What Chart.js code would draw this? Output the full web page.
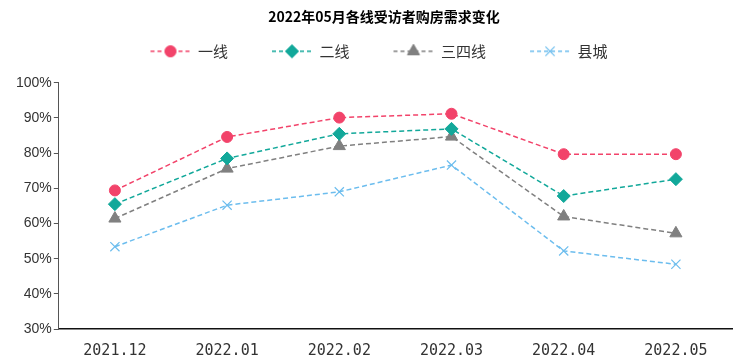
<!DOCTYPE html>
<html>
<head>
<meta charset="utf-8">
<script src="https://cdn.jsdelivr.net/npm/chart.js@4/dist/chart.umd.min.js"></script>
<style>
  html, body { margin: 0; padding: 0; background: #fff; }
  #wrap { width: 740px; height: 363px; }
</style>
</head>
<body>
<div id="wrap"><canvas id="demandChart"></canvas></div>
<script>
const months = ['2021.12', '2022.01', '2022.02', '2022.03', '2022.04', '2022.05'];
const tier1 = [69.4, 84.6, 90.1, 91.2, 79.7, 79.7];
const tier2 = [65.5, 78.5, 85.5, 86.9, 67.8, 72.6];
const tier34 = [61.4, 75.6, 82.0, 84.7, 62.0, 57.2];
const county = [53.4, 65.2, 69.0, 76.6, 52.2, 48.4];
const seriesNames = ['一线', '二线', '三四线', '县城'];

const colors = ['#f2436a', '#12a89a', '#808080', '#6cbdee'];
const markers = ['circle', 'rectRot', 'triangle', 'crossRot'];
const markerSize = [5.5, 6.5, 7, 6.5];

// legend icon: blank lead-in (item spacing), then dashed line with the marker in the middle
const ICON_LEAD = 34;
const makeLegendIcon = (i) => {
    const c = document.createElement('canvas');
    c.width = ICON_LEAD + 40;
    c.height = 16;
    const ctx = c.getContext('2d');
    ctx.strokeStyle = colors[i];
    ctx.lineWidth = 1.5;
    ctx.setLineDash([4, 3]);
    ctx.beginPath();
    ctx.moveTo(ICON_LEAD, 8);
    ctx.lineTo(ICON_LEAD + 40, 8);
    ctx.stroke();
    ctx.setLineDash([]);
    ctx.fillStyle = colors[i];
    ctx.strokeStyle = colors[i];
    ctx.lineWidth = markers[i] === 'crossRot' ? 1.2 : 1;
    Chart.helpers.drawPoint(ctx, {
        pointStyle: markers[i],
        radius: markerSize[i],
        borderWidth: ctx.lineWidth
    }, ICON_LEAD + 20, 8);
    if (markers[i] !== 'crossRot') ctx.fill();
    return c;
};

const makeDataset = (label, data, i) => ({
    label: label,
    data: data,
    borderColor: colors[i],
    backgroundColor: colors[i],
    borderWidth: 1.5,
    borderDash: [5, 3],
    pointStyle: markers[i],
    pointRadius: markerSize[i],
    pointHoverRadius: markerSize[i],
    pointBorderWidth: markers[i] === 'crossRot' ? 1.2 : 1,
    pointBackgroundColor: colors[i],
    pointBorderColor: colors[i],
    tension: 0
});

const icons = seriesNames.map((n, i) => makeLegendIcon(i));

// more room under the legend, and nudge title / legend sideways
const headerTweak = {
    id: 'headerTweak',
    beforeInit(chart) {
        const fit = chart.legend.fit;
        chart.legend.fit = function () {
            fit.bind(chart.legend)();
            this.height += 14;
        };
    },
    afterLayout(chart) {
        chart.legend.left -= 12;
        chart.legend.right -= 12;
        chart.titleBlock.left += 10;
        chart.titleBlock.right += 10;
    }
};

new Chart(document.getElementById('demandChart'), {
    type: 'line',
    data: {
        labels: months,
        datasets: [
            makeDataset(seriesNames[0], tier1, 0),
            makeDataset(seriesNames[1], tier2, 1),
            makeDataset(seriesNames[2], tier34, 2),
            makeDataset(seriesNames[3], county, 3)
        ]
    },
    plugins: [headerTweak],
    options: {
        responsive: true,
        maintainAspectRatio: false,
        animation: false,
        layout: {
            padding: { top: 0, left: 14, right: 6, bottom: -10 }
        },
        plugins: {
            title: {
                display: true,
                text: '2022年05月各线受访者购房需求变化',
                color: '#000',
                font: { family: '"Noto Sans CJK SC"', size: 14, weight: 'bold' },
                padding: { top: 8, bottom: 9 }
            },
            legend: {
                position: 'top',
                labels: {
                    usePointStyle: true,
                    pointStyleWidth: ICON_LEAD + 40,
                    padding: 10,
                    color: '#333',
                    font: { family: '"Noto Sans CJK SC"', size: 15 },
                    generateLabels: (chart) => chart.data.datasets.map((ds, i) => ({
                        text: ds.label,
                        pointStyle: icons[i],
                        fillStyle: colors[i],
                        strokeStyle: colors[i],
                        fontColor: '#333',
                        lineWidth: 0,
                        hidden: false,
                        datasetIndex: i
                    }))
                }
            },
            tooltip: { enabled: false }
        },
        scales: {
            x: {
                offset: true,
                grid: { display: false, drawTicks: false },
                border: { display: true, color: '#111', width: 1.5 },
                ticks: {
                    color: '#333',
                    font: { family: '"DejaVu Sans Mono"', size: 15 },
                    padding: 13,
                    maxRotation: 0
                }
            },
            y: {
                min: 30,
                max: 100,
                grid: { drawOnChartArea: false, drawTicks: true, tickLength: 5, color: '#555' },
                border: { display: true, color: '#555', width: 1 },
                ticks: {
                    stepSize: 10,
                    color: '#333',
                    padding: 2,
                    font: { family: '"Liberation Sans"', size: 14 },
                    callback: (v) => `${v}%`
                }
            }
        }
    }
});
</script>
</body>
</html>
